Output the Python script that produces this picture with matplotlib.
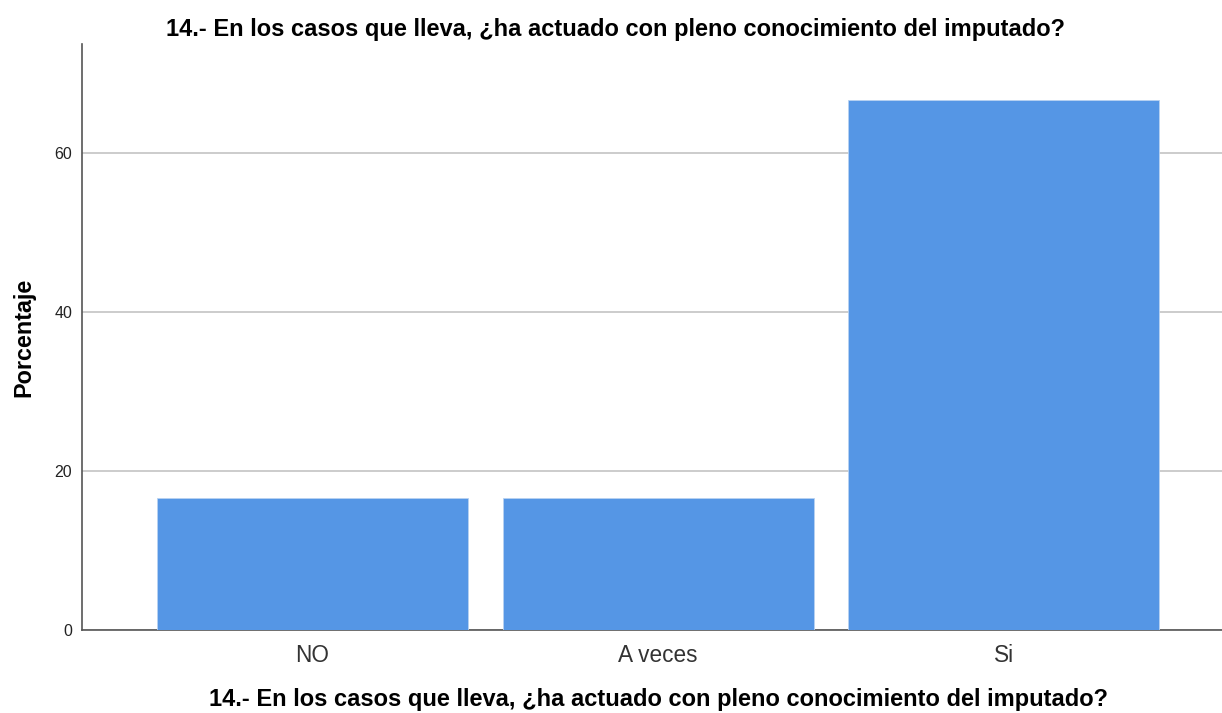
import numpy as np
import matplotlib.pyplot as plt

plt.rcParams['font.family'] = ['Liberation Sans', 'DejaVu Sans']

categories = ['NO', 'A veces', 'Si']
porcentaje = [16.67, 16.67, 66.67]
y_ticks = [0, 20, 40, 60]
titulo = '14.- En los casos que lleva, ¿ha actuado con pleno conocimiento del imputado?'


def main():
    fig = plt.figure(figsize=(12.22, 7.13), dpi=100)
    ax = fig.add_axes([0.0671, 0.1164, 0.9329, 0.8216])

    x = np.arange(len(categories))
    ax.bar(x, porcentaje, width=0.9, color='#5596e5', edgecolor='#b8d2f2',
           linewidth=0.6, zorder=3)

    ax.set_xlim(-0.667, 2.632)
    ax.set_ylim(0, 73.7)
    ax.set_yticks(y_ticks)
    ax.set_xticks(x)
    ax.set_xticklabels(categories, fontsize=16.3, color='#333333')
    ax.tick_params(axis='y', length=0, labelsize=11.5, colors='#222222', pad=7)
    ax.tick_params(axis='x', length=0, pad=10)
    ax.yaxis.grid(True, color='#cccccc', linewidth=1.4, zorder=0)

    for s in ['top', 'right']:
        ax.spines[s].set_visible(False)
    for s in ['left', 'bottom']:
        ax.spines[s].set_color('#555555')
        ax.spines[s].set_linewidth(1.2)

    ax.set_ylabel('Porcentaje', fontsize=16.8, fontweight='bold', labelpad=14)
    ax.set_xlabel(titulo, fontsize=17, fontweight='bold')
    ax.xaxis.set_label_coords(0.506, -0.099)
    fig.text(0.504, 0.958, titulo, ha='center', va='center',
             fontsize=17, fontweight='bold')

    fig.savefig('out.png', dpi=100)


if __name__ == '__main__':
    main()
